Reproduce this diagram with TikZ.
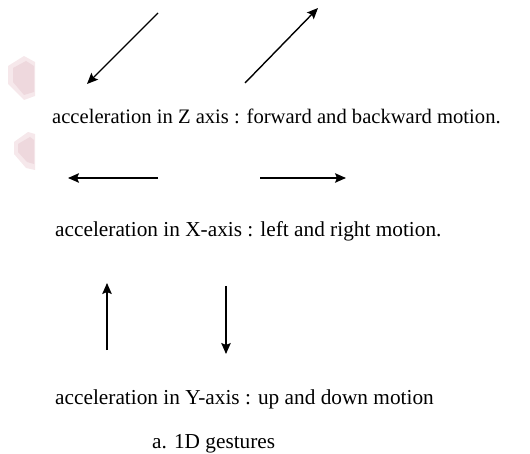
\documentclass[tikz,border=0pt]{standalone}
\usepackage{fontspec}
\setmainfont{Liberation Serif}
\usetikzlibrary{arrows.meta}
\definecolor{blotch}{RGB}{238,216,221}
\definecolor{blotchlight}{RGB}{246,232,235}
\tikzset{
  motion/.style={line width=1.4pt, -{Stealth[length=11pt,width=9.5pt,inset=2pt]}},
  label/.style={anchor=base west, inner sep=0pt, font=\fontsize{21.3pt}{25pt}\selectfont},
  labelz/.style={label, font=\fontsize{20.6pt}{25pt}\selectfont},
}
\begin{document}
\begin{tikzpicture}[x=1pt,y=-1pt]
\useasboundingbox (0,0) rectangle (530,454);
% faint watermark blotches
\fill[blotchlight] (8,66) -- (24,56) -- (35,62) -- (35,96) -- (24,100) -- (8,84) -- cycle;
\fill[blotch] (13,68) -- (26,61) -- (34,66) -- (34,92) -- (24,95) -- (13,82) -- cycle;
\fill[blotchlight] (14,142) -- (28,132) -- (35,134) -- (35,170) -- (26,168) -- (14,154) -- cycle;
\fill[blotch] (18,144) -- (30,137) -- (34,140) -- (34,164) -- (27,162) -- (18,152) -- cycle;
% coordinates
\coordinate (z1s) at (158,13);
\coordinate (z1e) at (87,84);
\coordinate (z2s) at (245,83);
\coordinate (z2e) at (318,8);
\coordinate (x1s) at (158,178);
\coordinate (x1e) at (68,178);
\coordinate (x2s) at (260,178);
\coordinate (x2e) at (346,178);
\coordinate (y1s) at (107,350);
\coordinate (y1e) at (107,283);
\coordinate (y2s) at (226,286);
\coordinate (y2e) at (226,354);
% arrows
\draw[motion] (z1s) -- (z1e);
\draw[motion] (z2s) -- (z2e);
\draw[motion] (x1s) -- (x1e);
\draw[motion] (x2s) -- (x2e);
\draw[motion] (y1s) -- (y1e);
\draw[motion] (y2s) -- (y2e);
% texts
\node[labelz] (tz) at (52,124) {acceleration in Z axis : forward and backward motion.};
\node[label] (tx) at (55,237) {acceleration in X-axis : left and right motion.};
\node[label] (ty) at (55,404) {acceleration in Y-axis : up and down motion};
\node[label] (cap) at (152,448.5) {a. 1D gestures};
\end{tikzpicture}
\end{document}
